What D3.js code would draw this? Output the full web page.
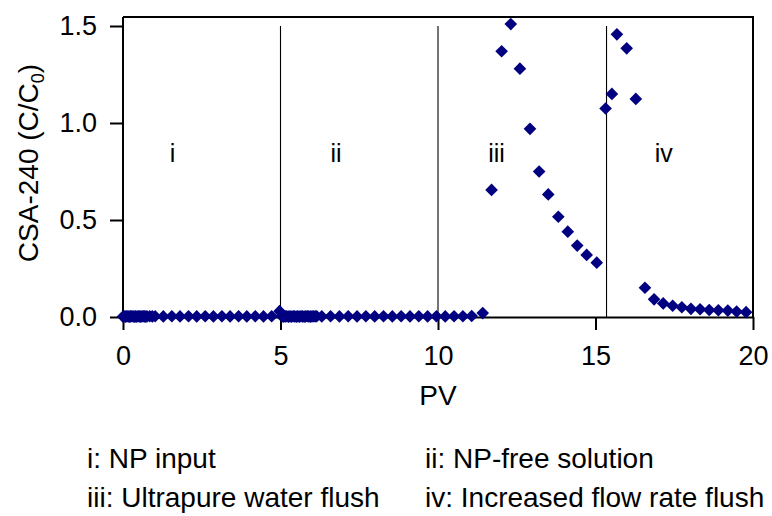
<!DOCTYPE html>
<html>
<head>
<meta charset="utf-8">
<script src="https://cdn.jsdelivr.net/npm/d3@7/dist/d3.min.js"></script>
<style>
  html, body { margin: 0; padding: 0; background: #ffffff; }
  svg text { font-family: "Liberation Sans", Arial, sans-serif; fill: #000; }
</style>
</head>
<body>
<svg id="chart" width="772" height="516"></svg>
<script>
// Pore volumes (PV) eluted and normalised effluent concentration C/C0
const pvValues = [
  // phase i: NP input
  0.00, 0.04, 0.08, 0.12, 0.16, 0.20, 0.24, 0.28, 0.32, 0.36,
  0.40, 0.44, 0.48, 0.52, 0.56, 0.60, 0.64, 0.68, 0.72, 0.76,
  0.85, 0.93, 1.02, 1.28, 1.55, 1.81, 2.08, 2.34, 2.61, 2.87,
  3.14, 3.40, 3.67, 3.93, 4.20, 4.46, 4.72, 4.97,
  // phase ii: NP-free solution
  5.05, 5.10, 5.15, 5.20, 5.25, 5.30, 5.35, 5.40, 5.45, 5.50,
  5.55, 5.60, 5.65, 5.70, 5.75, 5.80, 5.85, 5.90, 5.95, 6.00,
  6.05, 6.10, 6.15, 6.31, 6.59, 6.87, 7.15, 7.43, 7.71, 7.99,
  8.27, 8.55, 8.83, 9.11, 9.39, 9.67, 9.95, 10.23, 10.51, 10.79,
  11.07, 11.42,
  // phase iii: ultrapure water flush
  11.70, 12.02, 12.31, 12.60, 12.92, 13.21, 13.50, 13.82, 14.12, 14.42,
  14.72, 15.04,
  // phase iv: increased flow rate flush
  15.32, 15.52, 15.68, 15.99, 16.28, 16.57, 16.86, 17.15, 17.45, 17.74,
  18.03, 18.32, 18.61, 18.90, 19.20, 19.48, 19.78
];
const concValues = [
  0.002, 0.003, 0.002, 0.004, 0.003, 0.002, 0.003, 0.004, 0.003, 0.002,
  0.003, 0.002, 0.004, 0.003, 0.002, 0.003, 0.004, 0.003, 0.002, 0.003,
  0.004, 0.003, 0.004, 0.003, 0.004, 0.003, 0.004, 0.003, 0.004, 0.003,
  0.004, 0.003, 0.004, 0.003, 0.004, 0.003, 0.004, 0.030,
  0.003, 0.002, 0.003, 0.004, 0.002, 0.003, 0.002, 0.004, 0.003, 0.002,
  0.003, 0.002, 0.004, 0.003, 0.002, 0.003, 0.004, 0.003, 0.002, 0.003,
  0.004, 0.003, 0.004, 0.003, 0.004, 0.003, 0.004, 0.003, 0.004, 0.003,
  0.004, 0.003, 0.004, 0.003, 0.004, 0.003, 0.004, 0.003, 0.004, 0.004,
  0.005, 0.020,
  0.655, 1.370, 1.510, 1.280, 0.970, 0.750, 0.632, 0.517, 0.440, 0.368,
  0.320, 0.280,
  1.075, 1.150, 1.457, 1.385, 1.124, 0.151, 0.091, 0.070, 0.058, 0.050,
  0.042, 0.040, 0.036, 0.035, 0.033, 0.028, 0.025
];

const xTicks = [0, 5, 10, 15, 20];
const yTicks = [0.0, 0.5, 1.0, 1.5];

// PV at which each flushing phase begins
const phaseBoundaries = [5, 10, 15.35];
const phaseNames = ["i", "ii", "iii", "iv"];
const phaseNamePV = [1.57, 6.76, 11.86, 17.17];
const phaseNameLevel = 0.80;

const legendLabels = [
  "i: NP input",
  "ii: NP-free solution",
  "iii: Ultrapure water flush",
  "iv: Increased flow rate flush"
];

const points = pvValues.map((pv, i) => ({ pv, c: concValues[i] }));

const svg = d3.select("#chart");
const plot = { left: 123, right: 753, top: 17, bottom: 317 };

const x = d3.scaleLinear().domain([0, 20]).range([plot.left, plot.right]);
const y = d3.scaleLinear().domain([0, 1.5]).range([plot.bottom, 26]);

// Phase divider lines
svg.append("g")
  .selectAll("line")
  .data(phaseBoundaries)
  .join("line")
  .attr("x1", d => x(d)).attr("x2", d => x(d))
  .attr("y1", y(1.5)).attr("y2", y(0))
  .attr("stroke", "#000").attr("stroke-width", 1.1);

// Phase names
svg.append("g")
  .selectAll("text")
  .data(phaseNames)
  .join("text")
  .attr("x", (d, i) => x(phaseNamePV[i]))
  .attr("y", y(phaseNameLevel))
  .attr("text-anchor", "middle")
  .style("font-size", "25px")
  .text(d => d);

// Frame top and right edges
svg.append("path")
  .attr("d", `M${plot.left},${plot.top}H${plot.right}V${plot.bottom}`)
  .attr("fill", "none").attr("stroke", "#000").attr("stroke-width", 2);

// Axes
const xAxis = svg.append("g")
  .attr("transform", `translate(0,${plot.bottom})`)
  .call(d3.axisBottom(x).tickValues(xTicks).tickSize(13).tickSizeOuter(0).tickPadding(16));
const yAxis = svg.append("g")
  .attr("transform", `translate(${plot.left},0)`)
  .call(d3.axisLeft(y).tickValues(yTicks).tickFormat(d3.format(".1f")).tickSize(13).tickSizeOuter(0).tickPadding(13));

// Extend left axis up to the frame top
yAxis.select(".domain").attr("d", `M0,${plot.top}V${plot.bottom}`);

[xAxis, yAxis].forEach(g => {
  g.select(".domain").attr("stroke", "#000").attr("stroke-width", 2);
  g.selectAll(".tick line").attr("stroke", "#000").attr("stroke-width", 2);
  g.selectAll(".tick text")
    .style("font-family", '"Liberation Sans", Arial, sans-serif')
    .style("font-size", "27px")
    .attr("fill", "#000");
});

// Data markers: filled diamonds
const diamond = d3.symbol().type(d3.symbolSquare).size(80);
svg.append("g")
  .selectAll("path")
  .data(points)
  .join("path")
  .attr("d", diamond)
  .attr("transform", d => `translate(${x(d.pv)},${y(d.c)}) rotate(45)`)
  .attr("fill", "#000080");

// Axis titles
svg.append("text")
  .attr("x", (plot.left + plot.right) / 2)
  .attr("y", 405)
  .attr("text-anchor", "middle")
  .style("font-size", "28px")
  .text("PV");

const yTitle = svg.append("text")
  .attr("transform", "translate(38,163) rotate(-90)")
  .attr("text-anchor", "middle")
  .style("font-size", "28px");
yTitle.append("tspan").text("CSA-240 (C/C");
yTitle.append("tspan").attr("dy", 6).style("font-size", "18px").text("0");
yTitle.append("tspan").attr("dy", -6).text(")");

// Phase legend
const legendPos = [[87, 468], [425, 468], [87, 507], [425, 507]];
svg.append("g")
  .selectAll("text")
  .data(legendLabels)
  .join("text")
  .attr("x", (d, i) => legendPos[i][0])
  .attr("y", (d, i) => legendPos[i][1])
  .style("font-size", "28px")
  .text(d => d);
</script>
</body>
</html>
